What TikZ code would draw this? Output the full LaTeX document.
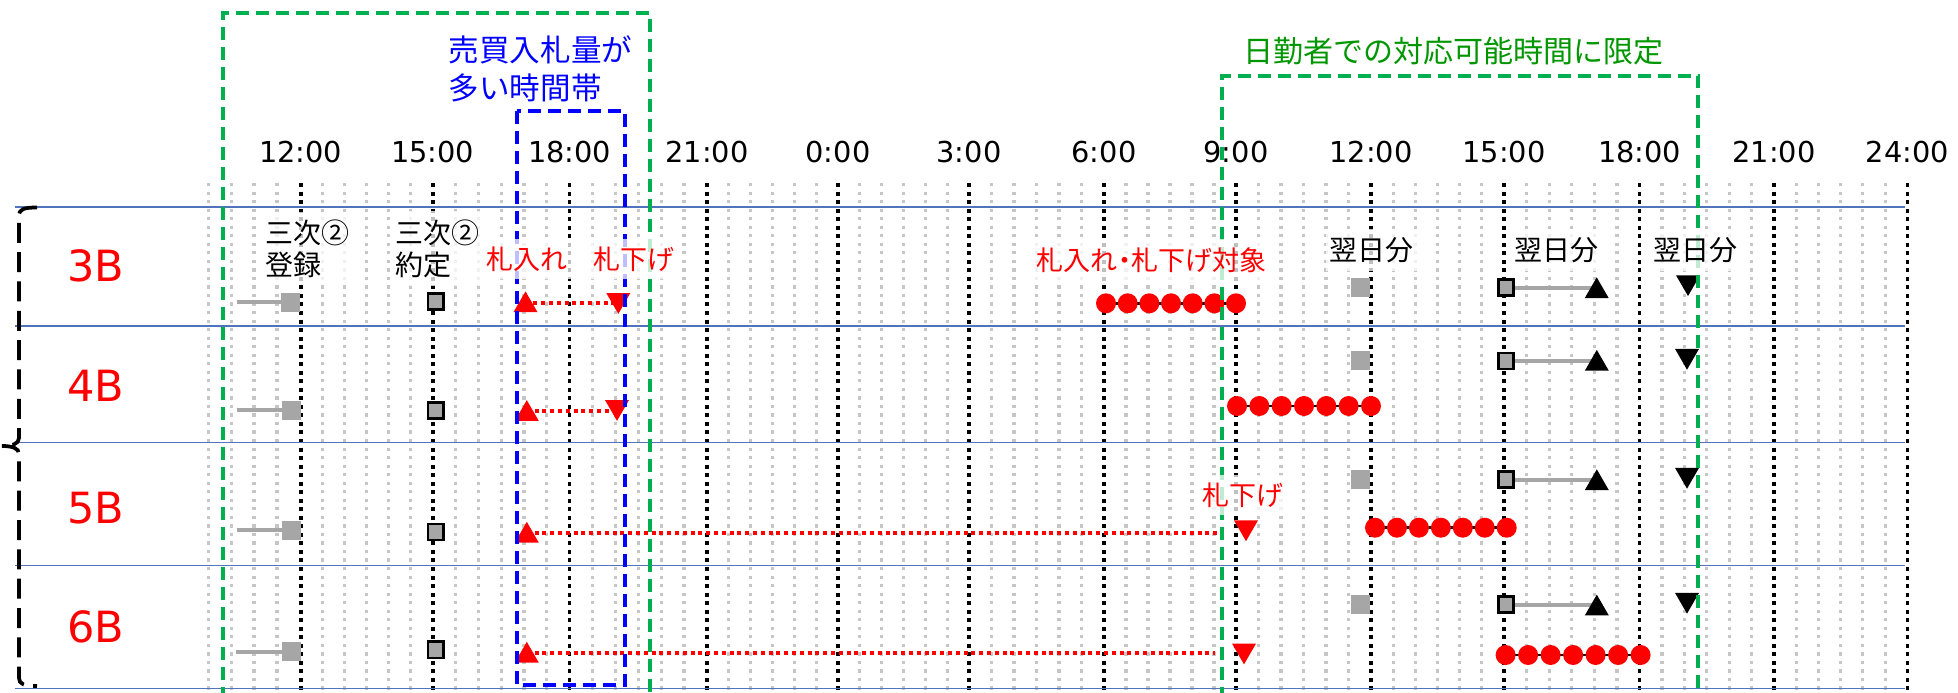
\documentclass[tikz,border=0pt]{standalone}
\usepackage{fontspec}
\usetikzlibrary{shapes.geometric}
\newfontfamily\jp{Noto Sans CJK JP}
\newfontfamily\lat{DejaVu Sans}
\definecolor{gridgray}{RGB}{198,198,198}
\definecolor{rowblue}{RGB}{80,115,190}
\definecolor{boxgreen}{RGB}{0,176,80}
\definecolor{txtgreen}{RGB}{0,150,0}
\definecolor{mgray}{RGB}{166,166,166}
\definecolor{myred}{RGB}{255,0,0}
\definecolor{myblue}{RGB}{0,0,255}
\pgfdeclarelayer{grid}
\pgfdeclarelayer{conn}
\pgfdeclarelayer{over}
\pgfsetlayers{grid,conn,main,over}
\tikzset{
  minorline/.style={draw=gridgray, line width=2.4pt, dash pattern=on 2.4pt off 4pt},
  majorline/.style={draw=black, line width=2.7pt, dash pattern=on 3pt off 3.4pt},
  rowline/.style={draw=rowblue, line width=1.1pt},
  greenbox/.style={draw=boxgreen, line width=2.8pt, dash pattern=on 9.75pt off 5.25pt},
  bluebox/.style={draw=myblue, line width=2.8pt, dash pattern=on 9.75pt off 5.25pt},
  bracket/.style={draw=black, line width=2.8pt, dash pattern=on 15pt off 7pt},
  plainsq/.style={rectangle, fill=mgray, minimum size=14.25pt, inner sep=0pt},
  bordsq/.style={rectangle, fill=mgray, draw=black, line width=2pt, minimum width=11.5pt, minimum height=12.2pt, inner sep=0pt},
  uptri/.style={regular polygon, regular polygon sides=3, minimum size=20.8pt, inner sep=0pt},
  dntri/.style={uptri, shape border rotate=180},
  reddot/.style={circle, fill=myred, minimum size=15pt, inner sep=0pt},
  grayconn/.style={draw=mgray, line width=3pt},
  redconn/.style={draw=myred, line width=3pt, dash pattern=on 3pt off 2.85pt},
  blackconn/.style={draw=black, line width=2pt},
  timelbl/.style={font=\lat\fontsize{21.6}{26}\selectfont, inner sep=0pt},
  rowlbl/.style={font=\lat\fontsize{32.25}{38}\selectfont, text=myred, inner sep=0pt},
  note/.style={font=\jp\fontsize{21}{24}\selectfont, align=left, fill=white, fill opacity=0.75, text opacity=1, inner xsep=3pt, inner ysep=6pt},
  rednote/.style={note, font=\jp\fontsize{20.25}{24}\selectfont, text=myred},
}
\begin{document}
\begin{tikzpicture}[x=0.75pt,y=-0.75pt]
\useasboundingbox (0,0) rectangle (1958,692);

% ---------------- grid ----------------
\begin{pgfonlayer}{grid}
  \foreach \xx in {208.3,231.3,254,277}
    \draw[minorline] (\xx,183) -- (\xx,690);
  \foreach \a/\b in {300.7/432.7,432.7/569.5,569.5/707,707/838,838/969,969/1104,1104/1236,1236/1371,1371/1504,1504/1639.5,1639.5/1774,1774/1907.3}
    \foreach \k in {1,...,5}
      \draw[minorline] ({\a+(\b-\a)*\k/6},183) -- ({\a+(\b-\a)*\k/6},690);
  \foreach \xx/\lab [count=\i] in {300.7/12:00,432.7/15:00,569.5/18:00,707/21:00,838/0:00,969/3:00,1104/6:00,1236/9:00,1371/12:00,1504/15:00,1639.5/18:00,1774/21:00,1907.3/24:00}{
    \draw[majorline] (\xx,183) -- (\xx,690);
    \node[timelbl] (tl\i) at (\xx,152) {\lab};
  }
  \foreach \yy [count=\i] in {207,326,442.5,565.5,688.5}{
    \coordinate (rl\i) at (15,\yy);
    \coordinate (rr\i) at (1905,\yy);
    \draw[rowline] (rl\i) -- (rr\i);
  }
  \draw[bracket] (37,207.5) .. controls (24,207.5) and (19,209) .. (19,216) -- (19,438)
     .. controls (19,444) and (12,446) .. (2,446)
     .. controls (12,446) and (19,448) .. (19,454) -- (19,678)
     .. controls (19,684) and (24,686) .. (37,686);
\end{pgfonlayer}

% ---------------- row labels ----------------
\node[rowlbl] (r3B) at (95.5,265.5) {3B};
\node[rowlbl] (r4B) at (95.5,386) {4B};
\node[rowlbl] (r5B) at (95.5,508.3) {5B};
\node[rowlbl] (r6B) at (95.5,626.7) {6B};

% ---------------- row 3B ----------------
\coordinate (s1) at (236.7,302);
\coordinate (h1) at (0,303);
\node[plainsq] (g1) at (290.8,302) {};
\node[bordsq] (k1) at (435.8,301.5) {};
\node[uptri,fill=myred] (u1) at (525.5,305.2) {};
\node[dntri,fill=myred] (d1) at (618.3,300) {};
\foreach \i in {0,...,6} \node[reddot] (c1\i) at ({1106+21.67*\i},303.3) {};
\node[plainsq] (gr1) at (1360.5,287.5) {};
\node[bordsq] (kr1) at (1506,287.5) {};
\node[uptri,fill=black] (bu1) at (1596.7,291.2) {};
\node[dntri,fill=black] (bd1) at (1688,282.2) {};

% ---------------- row 4B ----------------
\coordinate (s2) at (236.6,410);
\coordinate (h2) at (0,411);
\node[plainsq] (g2) at (291.5,410) {};
\node[bordsq] (k2) at (435.5,410.5) {};
\node[uptri,fill=myred] (u2) at (526.8,414) {};
\node[dntri,fill=myred] (d2) at (617,407) {};
\foreach \i in {0,...,6} \node[reddot] (c2\i) at ({1237+22.33*\i},406) {};
\node[plainsq] (gr2) at (1360.5,360.7) {};
\node[bordsq] (kr2) at (1506,361) {};
\node[uptri,fill=black] (bu2) at (1596.8,363.8) {};
\node[dntri,fill=black] (bd2) at (1687,355.8) {};

% ---------------- row 5B ----------------
\coordinate (s3) at (236.6,530);
\coordinate (h3) at (0,533.3);
\coordinate (e3) at (1221.7,533.3);
\node[plainsq] (g3) at (291.5,530) {};
\node[bordsq] (k3) at (435.5,532) {};
\node[uptri,fill=myred] (u3) at (526.8,535.7) {};
\node[dntri,fill=myred] (d3) at (1246,527.3) {};
\foreach \i in {0,...,6} \node[reddot] (c3\i) at ({1375+21.95*\i},527.7) {};
\node[plainsq] (gr3) at (1360.5,479) {};
\node[bordsq] (kr3) at (1506,479.5) {};
\node[uptri,fill=black] (bu3) at (1596.8,483.2) {};
\node[dntri,fill=black] (bd3) at (1687,474.8) {};

% ---------------- row 6B ----------------
\coordinate (s4) at (235.7,652);
\coordinate (h4) at (0,653);
\coordinate (e4) at (1215,653);
\node[plainsq] (g4) at (291.5,651.8) {};
\node[bordsq] (k4) at (435.5,649.7) {};
\node[uptri,fill=myred] (u4) at (526.8,655.7) {};
\node[dntri,fill=myred] (d4) at (1244,650.5) {};
\foreach \i in {0,...,6} \node[reddot] (c4\i) at ({1505.6+22.5*\i},655) {};
\node[plainsq] (gr4) at (1360.5,604) {};
\node[bordsq] (kr4) at (1506,604.5) {};
\node[uptri,fill=black] (bu4) at (1596.8,608.5) {};
\node[dntri,fill=black] (bd4) at (1687,599.8) {};

% ---------------- connectors ----------------
\begin{pgfonlayer}{conn}
  \foreach \r in {1,2,3,4}{
    \draw[grayconn] (s\r) -- (s\r -| g\r.center);
    \draw[blackconn] (c\r0.center) -- (c\r6.center);
    \draw[grayconn] (kr\r.center) -- (kr\r.center -| bu\r.center);
  }
  \draw[redconn] (u1 |- h1) -- (d1 |- h1);
  \draw[redconn] (u2 |- h2) -- (d2 |- h2);
  \draw[redconn] (u3 |- h3) -- (e3);
  \draw[redconn] (u4 |- h4) -- (e4);
\end{pgfonlayer}

% ---------------- frames and texts ----------------
\begin{pgfonlayer}{over}
  \draw[greenbox] (223.3,700) -- (223.3,12.7) -- (650,12.7) -- (650,700);
  \draw[greenbox] (1221.7,700) -- (1221.7,76) -- (1698.3,76) -- (1698.3,700);
  \draw[bluebox] (517.3,111) rectangle (625,685);

  \node[font=\jp\fontsize{22.9}{28.1}\selectfont, text=myblue, align=left, anchor=west, inner sep=0pt] (bt) at (448.6,68.75) {売買入札量が\\多い時間帯};
  \node[font=\jp\fontsize{22.5}{27}\selectfont, text=txtgreen, inner sep=0pt] (gt) at (1453.5,50.8) {日勤者での対応可能時間に限定};

  \node[note, anchor=west] (n1) at (261,248.5) {三次②\\登録};
  \node[note, anchor=west] (n2) at (391,248.5) {三次②\\約定};
  \node[rednote, anchor=west] (n3) at (482.7,259) {札入れ};
  \node[rednote, anchor=west] (n4) at (589,259) {札下げ};
  \node[rednote] (n5) at (1151.7,260) {札入れ\makebox[0.5em]{・}札下げ対象};
  \node[note] (n6) at (1371.5,250) {翌日分};
  \node[note] (n7) at (1556,250) {翌日分};
  \node[note] (n8) at (1695,250) {翌日分};
  \node[rednote] (n9) at (1243,495) {札下げ};
\end{pgfonlayer}
\end{tikzpicture}
\end{document}
